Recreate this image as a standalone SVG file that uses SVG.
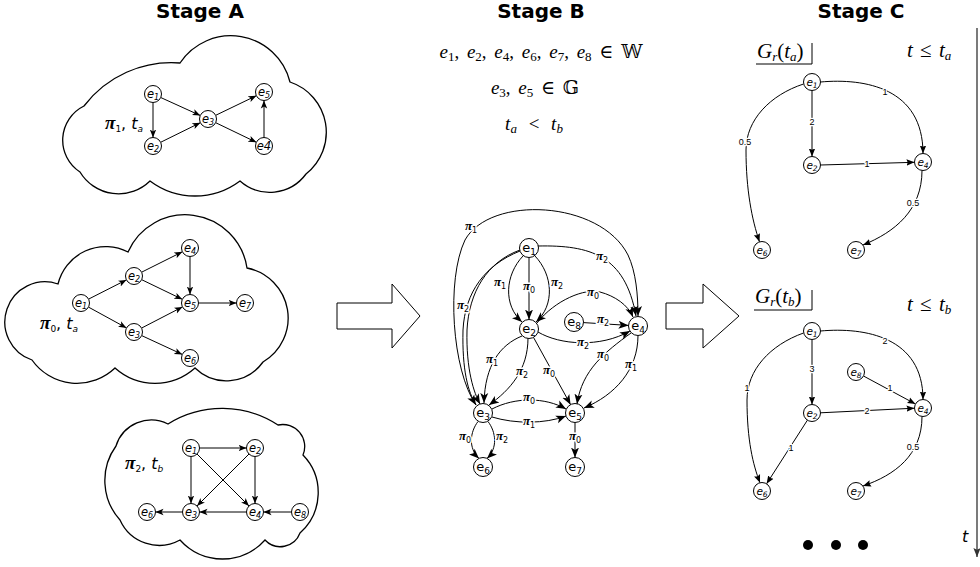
<svg xmlns="http://www.w3.org/2000/svg" width="980" height="567" viewBox="0 0 980 567">
<defs>
<style>
text{font-family:"DejaVu Sans",sans-serif;fill:#000}
.hd{font-weight:bold;font-size:20px;text-anchor:middle}
.cloud{fill:#fff;stroke:#000;stroke-width:1.3}
.bigarrow{fill:#fff;stroke:#000;stroke-width:1}
.nd circle{fill:#fff;stroke:#000;stroke-width:1}
.nd text{text-anchor:middle}
.na text{font-size:11.5px;font-style:italic}
.nb text{font-size:13px}
.nc text{font-size:10.5px;font-style:italic}
.s8{font-size:8px}
.s9{font-size:9px}
.s7{font-size:7.5px}
.ed path,.ed line{fill:none;stroke:#000;stroke-width:1}
.ea{marker-end:url(#ma)}
.eb{marker-end:url(#mb)}
.ec{marker-end:url(#mc)}
.pl{font-size:16px}
.pi{font-family:"Liberation Serif","DejaVu Serif",serif;font-weight:bold;font-style:italic}
.pl .pi{font-size:19px}
.lp{font-size:11px;text-anchor:middle;paint-order:stroke;stroke:#fff;stroke-width:3px;stroke-linejoin:round}
.lp .pi{font-size:13px}
.lw{font-family:"Liberation Sans",sans-serif;font-size:9px;text-anchor:middle;paint-order:stroke;stroke:#fff;stroke-width:2.5px;stroke-linejoin:round}
.m{font-family:"Liberation Serif","DejaVu Serif",serif;font-size:19px;text-anchor:middle;word-spacing:3px}
.mt{font-family:"Liberation Serif","DejaVu Serif",serif;font-size:21px}
.it{font-style:italic}
.ms{font-size:13px}
</style>
<marker id="ma" viewBox="0 0 10 10" refX="10" refY="5" markerWidth="8" markerHeight="8" markerUnits="userSpaceOnUse" orient="auto"><path d="M0,1 L10,5 L0,9 L2.5,5 Z"/></marker>
<marker id="mb" viewBox="0 0 10 10" refX="10" refY="5" markerWidth="10" markerHeight="10" markerUnits="userSpaceOnUse" orient="auto"><path d="M0,1 L10,5 L0,9 L2.5,5 Z"/></marker>
<marker id="mc" viewBox="0 0 10 10" refX="10" refY="5" markerWidth="8" markerHeight="8" markerUnits="userSpaceOnUse" orient="auto"><path d="M0,1 L10,5 L0,9 L1.5,5 Z"/></marker>
<marker id="mt" viewBox="0 0 10 10" refX="10" refY="5" markerWidth="9" markerHeight="9" markerUnits="userSpaceOnUse" orient="auto"><path d="M0,1 L10,5 L0,9 L2,5 Z" fill="#333"/></marker>
</defs>
<rect width="980" height="567" fill="#fff"/>

<!-- column headings -->
<text class="hd" x="200" y="18">Stage A</text>
<text class="hd" x="541" y="18">Stage B</text>
<text class="hd" x="861" y="18">Stage C</text>

<!-- clouds (one per path) -->
<g id="cloud-pi1">
<path class="cloud" d="M80 172 A38 38 0 0 1 84 106 A110 110 0 0 1 180 63 A61 61 0 0 1 290 82 A53 53 0 0 1 306 174 A45 45 0 0 1 240 181 A75 75 0 0 1 150 181 A45 45 0 0 1 80 172 Z"/>
<text class="pl" x="105" y="129"><tspan class="pi">π</tspan><tspan class="s9" dy="3">1</tspan><tspan dy="-3">, </tspan><tspan class="it">t</tspan><tspan class="s9 it" dy="3">a</tspan></text>
</g>
<g id="cloud-pi0">
<path class="cloud" d="M32 360 A40 40 0 0 1 58 284 A49 49 0 0 1 128 252 A62.5 62.5 0 0 1 247 268 A51 51 0 0 1 263 362 A45 45 0 0 1 195 368 A60 60 0 0 1 115 368 A55 55 0 0 1 32 360 Z"/>
<text class="pl" x="40" y="329"><tspan class="pi">π</tspan><tspan class="s9" dy="3">0</tspan><tspan dy="-3">, </tspan><tspan class="it">t</tspan><tspan class="s9 it" dy="3">a</tspan></text>
</g>
<g id="cloud-pi2">
<path class="cloud" d="M120 520 A59 59 0 0 1 116 446 A37 37 0 0 1 168 424 A102 102 0 0 1 278 425 A22 22 0 0 1 303 455 A54 54 0 0 1 300 533 A21 21 0 0 1 265 540 A57 57 0 0 1 180 540 A43 43 0 0 1 120 520 Z"/>
<text class="pl" x="125" y="469"><tspan class="pi">π</tspan><tspan class="s9" dy="3">2</tspan><tspan dy="-3">, </tspan><tspan class="it">t</tspan><tspan class="s9 it" dy="3">b</tspan></text>
</g>

<!-- transition arrows -->
<polygon id="arrow-ab" class="bigarrow" points="337,303 392,303 392,284 420,316 392,348 392,329 337,329"/>
<polygon id="arrow-bc" class="bigarrow" points="666,303 703,303 703,284 739,316 703,348 703,329 666,329"/>

<!-- Stage B statements -->
<text class="m" x="541" y="58"><tspan class="it">e</tspan><tspan class="ms" dy="3">1</tspan><tspan dy="-3">, </tspan><tspan class="it">e</tspan><tspan class="ms" dy="3">2</tspan><tspan dy="-3">, </tspan><tspan class="it">e</tspan><tspan class="ms" dy="3">4</tspan><tspan dy="-3">, </tspan><tspan class="it">e</tspan><tspan class="ms" dy="3">6</tspan><tspan dy="-3">, </tspan><tspan class="it">e</tspan><tspan class="ms" dy="3">7</tspan><tspan dy="-3">, </tspan><tspan class="it">e</tspan><tspan class="ms" dy="3">8</tspan><tspan dy="-3"> ∈ 𝕎</tspan></text>
<text class="m" x="535" y="94"><tspan class="it">e</tspan><tspan class="ms" dy="3">3</tspan><tspan dy="-3">, </tspan><tspan class="it">e</tspan><tspan class="ms" dy="3">5</tspan><tspan dy="-3"> ∈ 𝔾</tspan></text>
<text class="m" x="534" y="130" style="word-spacing:7px"><tspan class="it">t</tspan><tspan class="ms it" dy="3">a</tspan><tspan dy="-3"> &lt; </tspan><tspan class="it">t</tspan><tspan class="ms it" dy="3">b</tspan></text>

<!-- Stage C titles -->
<g id="title-ta">
<text class="mt" x="757" y="58"><tspan class="it">G</tspan><tspan class="ms it" dy="3">r</tspan><tspan dy="-3">(</tspan><tspan class="it">t</tspan><tspan class="ms it" dy="3">a</tspan><tspan dy="-3">)</tspan></text>
<path d="M756 64 H812 V43" fill="none" stroke="#000" stroke-width="1"/>
<text class="mt" x="907" y="57" style="word-spacing:2px"><tspan class="it">t</tspan> ≤ <tspan class="it">t</tspan><tspan class="ms it" dy="3">a</tspan></text>
</g>
<g id="title-tb">
<text class="mt" x="755" y="303"><tspan class="it">G</tspan><tspan class="ms it" dy="3">r</tspan><tspan dy="-3">(</tspan><tspan class="it">t</tspan><tspan class="ms it" dy="3">b</tspan><tspan dy="-3">)</tspan></text>
<path d="M754 310 H812 V290" fill="none" stroke="#000" stroke-width="1"/>
<text class="mt" x="907" y="311" style="word-spacing:2px"><tspan class="it">t</tspan> ≤ <tspan class="it">t</tspan><tspan class="ms it" dy="3">b</tspan></text>
</g>

<!-- time axis -->
<g id="time-axis">
<line x1="977" y1="28" x2="977" y2="557" stroke="#333" stroke-width="1.3" marker-end="url(#mt)"/>
<text class="it" x="962" y="542" font-family="Liberation Serif, serif" font-size="16">t</text>
<circle cx="808" cy="545" r="5"/>
<circle cx="836" cy="545" r="5"/>
<circle cx="863" cy="545" r="5"/>
</g>

<!-- connectors -->
<g id="connectors" class="ed">
<!-- path pi1 -->
<line class="ea" x1="153" y1="102.5" x2="153" y2="137.5"/>
<line class="ea" x1="160.7" y1="97.5" x2="200.3" y2="115.5"/>
<line class="ea" x1="160.6" y1="142.3" x2="200.4" y2="122.7"/>
<line class="ea" x1="215.7" y1="115.3" x2="256.4" y2="95.7"/>
<line class="ea" x1="215.7" y1="122.7" x2="256.4" y2="142.3"/>
<line class="ea" x1="264" y1="137.5" x2="264" y2="100.5"/>
<!-- path pi0 -->
<line class="ea" x1="88.6" y1="299.1" x2="126.4" y2="279.9"/>
<line class="ea" x1="88.5" y1="307.1" x2="126.5" y2="327.9"/>
<line class="ea" x1="141.6" y1="272.2" x2="182.4" y2="251.8"/>
<line class="ea" x1="141.7" y1="279.7" x2="182.3" y2="299.3"/>
<line class="ea" x1="190" y1="256.5" x2="190" y2="294.5"/>
<line class="ea" x1="141.5" y1="328.1" x2="182.5" y2="306.9"/>
<line class="ea" x1="198.5" y1="303" x2="236.5" y2="303"/>
<line class="ea" x1="141.7" y1="335.6" x2="182.3" y2="354.4"/>
<!-- path pi2 -->
<line class="ea" x1="199.5" y1="448" x2="246.5" y2="448"/>
<line class="ea" x1="191" y1="456.5" x2="191" y2="503.5"/>
<line class="ea" x1="197" y1="454" x2="249" y2="506"/>
<line class="ea" x1="249" y1="454" x2="197" y2="506"/>
<line class="ea" x1="255" y1="456.5" x2="255" y2="503.5"/>
<line class="ea" x1="246.5" y1="512" x2="199.5" y2="512"/>
<line class="ea" x1="291.5" y1="512" x2="263.5" y2="512"/>
<line class="ea" x1="182.5" y1="512" x2="155.5" y2="512"/>

<!-- merged graph -->
<path class="eb" d="M476 405 C452 370 446 280 465 240 C490 195 600 200 628 255 C636 272 638 295 638 316"/>
<path class="eb" d="M520 251 C485 265 465 292 463 330 C462 370 468 392 476 405"/>
<path class="eb" d="M520 250 C487 262 469 292 467 330 C466 370 474 393 480 404"/>
<path class="eb" d="M523 256 C505 275 503 305 522 322"/>
<line class="eb" x1="529" y1="257.5" x2="529" y2="319.5"/>
<path class="eb" d="M535 256 C553 275 555 305 536 322"/>
<path class="eb" d="M538 246 C590 245 625 255 636 316"/>
<path class="eb" d="M537 323 C555 300 585 288 600 292 C615 296 628 305 633 317"/>
<line class="eb" x1="583.5" y1="322.6" x2="628.5" y2="325.4"/>
<path class="eb" d="M538 332 C560 345 600 348 630 331"/>
<path class="eb" d="M631 333 C605 352 582 370 577 404"/>
<path class="eb" d="M638 335.5 C638 370 615 395 584 408"/>
<path class="eb" d="M522 336 C500 345 485 365 484 403"/>
<path class="eb" d="M528 338 C528 370 510 390 489 405"/>
<line class="eb" x1="533.5" y1="337.4" x2="570.6" y2="404.7"/>
<path class="eb" d="M492 409 C515 397 545 397 566 409"/>
<path class="eb" d="M492 417 C515 424 545 424 566 416"/>
<path class="eb" d="M478 421.5 C470 432 468 448 479 458.5"/>
<path class="eb" d="M488 421.5 C496 432 498 448 487 458.5"/>
<line class="eb" x1="575" y1="422.5" x2="575" y2="457.5"/>

<!-- reachability graph at t_a -->
<line class="ec" x1="812" y1="90.5" x2="812" y2="156.5"/>
<path class="ec" d="M820.5 82 C865 78 923 88 923 153.5"/>
<path class="ec" d="M803.5 84 C770 95 746 120 746 150 C746 190 752 220 759.5 241.8"/>
<line class="ec" x1="820.5" y1="165" x2="914.5" y2="162.3"/>
<path class="ec" d="M922 170.5 C922 210 895 232 863 245"/>
<!-- reachability graph at t_b -->
<line class="ec" x1="812" y1="339.5" x2="812" y2="404.5"/>
<path class="ec" d="M820.5 331 C865 327 923 337 923 399.5"/>
<path class="ec" d="M803.5 333 C770 345 747 370 747 400 C747 440 753 465 760 482.7"/>
<line class="ec" x1="863.5" y1="376" x2="915.5" y2="404"/>
<line class="ec" x1="820.5" y1="412.8" x2="914.5" y2="408.2"/>
<line class="ec" x1="807.4" y1="420.2" x2="766.6" y2="483.8"/>
<path class="ec" d="M922 416.5 C922 455 895 475 863 486"/>
</g>

<!-- connector labels -->
<g id="connector-labels">
<text class="lp" x="471" y="230"><tspan class="pi">π</tspan><tspan class="s8" dy="2.5">1</tspan></text>
<text class="lp" x="602" y="260"><tspan class="pi">π</tspan><tspan class="s8" dy="2.5">2</tspan></text>
<text class="lp" x="500" y="286"><tspan class="pi">π</tspan><tspan class="s8" dy="2.5">1</tspan></text>
<text class="lp" x="529" y="290"><tspan class="pi">π</tspan><tspan class="s8" dy="2.5">0</tspan></text>
<text class="lp" x="557" y="286"><tspan class="pi">π</tspan><tspan class="s8" dy="2.5">2</tspan></text>
<text class="lp" x="463" y="309"><tspan class="pi">π</tspan><tspan class="s8" dy="2.5">2</tspan></text>
<text class="lp" x="593" y="296"><tspan class="pi">π</tspan><tspan class="s8" dy="2.5">0</tspan></text>
<text class="lp" x="603" y="323"><tspan class="pi">π</tspan><tspan class="s8" dy="2.5">2</tspan></text>
<text class="lp" x="583" y="346"><tspan class="pi">π</tspan><tspan class="s8" dy="2.5">2</tspan></text>
<text class="lp" x="603" y="358"><tspan class="pi">π</tspan><tspan class="s8" dy="2.5">0</tspan></text>
<text class="lp" x="631" y="368"><tspan class="pi">π</tspan><tspan class="s8" dy="2.5">1</tspan></text>
<text class="lp" x="492" y="363"><tspan class="pi">π</tspan><tspan class="s8" dy="2.5">1</tspan></text>
<text class="lp" x="522" y="375"><tspan class="pi">π</tspan><tspan class="s8" dy="2.5">2</tspan></text>
<text class="lp" x="549" y="374"><tspan class="pi">π</tspan><tspan class="s8" dy="2.5">0</tspan></text>
<text class="lp" x="529" y="401"><tspan class="pi">π</tspan><tspan class="s8" dy="2.5">0</tspan></text>
<text class="lp" x="529" y="425"><tspan class="pi">π</tspan><tspan class="s8" dy="2.5">1</tspan></text>
<text class="lp" x="465" y="440"><tspan class="pi">π</tspan><tspan class="s8" dy="2.5">0</tspan></text>
<text class="lp" x="502" y="440"><tspan class="pi">π</tspan><tspan class="s8" dy="2.5">2</tspan></text>
<text class="lp" x="575" y="440"><tspan class="pi">π</tspan><tspan class="s8" dy="2.5">0</tspan></text>

<text class="lw" x="812" y="125">2</text>
<text class="lw" x="885" y="95">1</text>
<text class="lw" x="745" y="145">0.5</text>
<text class="lw" x="867" y="167">1</text>
<text class="lw" x="913" y="206">0.5</text>
<text class="lw" x="812" y="372">3</text>
<text class="lw" x="885" y="344">2</text>
<text class="lw" x="747" y="391">1</text>
<text class="lw" x="890" y="391">1</text>
<text class="lw" x="867" y="414">2</text>
<text class="lw" x="791" y="451">1</text>
<text class="lw" x="913" y="450">0.5</text>
</g>

<!-- nodes: path pi1 -->
<g id="a1-e1" class="nd na"><circle cx="153" cy="94" r="8.5"/><text x="153" y="97.5">e<tspan class="s8" dy="2.5">1</tspan></text></g>
<g id="a1-e2" class="nd na"><circle cx="153" cy="146" r="8.5"/><text x="153" y="149.5">e<tspan class="s8" dy="2.5">2</tspan></text></g>
<g id="a1-e3" class="nd na"><circle cx="208" cy="119" r="8.5"/><text x="208" y="122.5">e<tspan class="s8" dy="2.5">3</tspan></text></g>
<g id="a1-e5" class="nd na"><circle cx="264" cy="92" r="8.5"/><text x="264" y="95.5">e<tspan class="s8" dy="2.5">5</tspan></text></g>
<g id="a1-e4" class="nd na"><circle cx="264" cy="146" r="8.5"/><text x="264" y="150">e4</text></g>
<!-- nodes: path pi0 -->
<g id="a0-e1" class="nd na"><circle cx="81" cy="303" r="8.5"/><text x="81" y="306.5">e<tspan class="s8" dy="2.5">1</tspan></text></g>
<g id="a0-e2" class="nd na"><circle cx="134" cy="276" r="8.5"/><text x="134" y="279.5">e<tspan class="s8" dy="2.5">2</tspan></text></g>
<g id="a0-e4" class="nd na"><circle cx="190" cy="248" r="8.5"/><text x="190" y="251.5">e<tspan class="s8" dy="2.5">4</tspan></text></g>
<g id="a0-e5" class="nd na"><circle cx="190" cy="303" r="8.5"/><text x="190" y="306.5">e<tspan class="s8" dy="2.5">5</tspan></text></g>
<g id="a0-e7" class="nd na"><circle cx="245" cy="303" r="8.5"/><text x="245" y="306.5">e<tspan class="s8" dy="2.5">7</tspan></text></g>
<g id="a0-e3" class="nd na"><circle cx="134" cy="332" r="8.5"/><text x="134" y="335.5">e<tspan class="s8" dy="2.5">3</tspan></text></g>
<g id="a0-e6" class="nd na"><circle cx="190" cy="358" r="8.5"/><text x="190" y="361.5">e<tspan class="s8" dy="2.5">6</tspan></text></g>
<!-- nodes: path pi2 -->
<g id="a2-e1" class="nd na"><circle cx="191" cy="448" r="8.5"/><text x="191" y="451.5">e<tspan class="s8" dy="2.5">1</tspan></text></g>
<g id="a2-e2" class="nd na"><circle cx="255" cy="448" r="8.5"/><text x="255" y="451.5">e<tspan class="s8" dy="2.5">2</tspan></text></g>
<g id="a2-e3" class="nd na"><circle cx="191" cy="512" r="8.5"/><text x="191" y="515.5">e<tspan class="s8" dy="2.5">3</tspan></text></g>
<g id="a2-e4" class="nd na"><circle cx="255" cy="512" r="8.5"/><text x="255" y="515.5">e<tspan class="s8" dy="2.5">4</tspan></text></g>
<g id="a2-e6" class="nd na"><circle cx="147" cy="512" r="8.5"/><text x="147" y="515.5">e<tspan class="s8" dy="2.5">6</tspan></text></g>
<g id="a2-e8" class="nd na"><circle cx="300" cy="512" r="8.5"/><text x="300" y="515.5">e<tspan class="s8" dy="2.5">8</tspan></text></g>
<!-- nodes: merged graph -->
<g id="b-e1" class="nd nb"><circle cx="529" cy="248" r="9.5"/><text x="529" y="252">e<tspan class="s9" dy="3">1</tspan></text></g>
<g id="b-e2" class="nd nb"><circle cx="529" cy="329" r="9.5"/><text x="529" y="333">e<tspan class="s9" dy="3">2</tspan></text></g>
<g id="b-e8" class="nd nb"><circle cx="574" cy="322" r="9.5"/><text x="574" y="326">e<tspan class="s9" dy="3">8</tspan></text></g>
<g id="b-e4" class="nd nb"><circle cx="638" cy="326" r="9.5"/><text x="638" y="330">e<tspan class="s9" dy="3">4</tspan></text></g>
<g id="b-e3" class="nd nb"><circle cx="483" cy="413" r="9.5"/><text x="483" y="417">e<tspan class="s9" dy="3">3</tspan></text></g>
<g id="b-e5" class="nd nb"><circle cx="575" cy="413" r="9.5"/><text x="575" y="417">e<tspan class="s9" dy="3">5</tspan></text></g>
<g id="b-e6" class="nd nb"><circle cx="483" cy="467" r="9.5"/><text x="483" y="471">e<tspan class="s9" dy="3">6</tspan></text></g>
<g id="b-e7" class="nd nb"><circle cx="575" cy="467" r="9.5"/><text x="575" y="471">e<tspan class="s9" dy="3">7</tspan></text></g>
<!-- nodes: reachability graph t_a -->
<g id="ca-e1" class="nd nc"><circle cx="812" cy="82" r="8.5"/><text x="812" y="85.5">e<tspan class="s7" dy="2.5">1</tspan></text></g>
<g id="ca-e2" class="nd nc"><circle cx="812" cy="165" r="8.5"/><text x="812" y="168.5">e<tspan class="s7" dy="2.5">2</tspan></text></g>
<g id="ca-e4" class="nd nc"><circle cx="923" cy="162" r="8.5"/><text x="923" y="165.5">e<tspan class="s7" dy="2.5">4</tspan></text></g>
<g id="ca-e6" class="nd nc"><circle cx="762" cy="250" r="8.5"/><text x="762" y="253.5">e<tspan class="s7" dy="2.5">6</tspan></text></g>
<g id="ca-e7" class="nd nc"><circle cx="856" cy="250" r="8.5"/><text x="856" y="253.5">e<tspan class="s7" dy="2.5">7</tspan></text></g>
<!-- nodes: reachability graph t_b -->
<g id="cb-e1" class="nd nc"><circle cx="812" cy="331" r="8.5"/><text x="812" y="334.5">e<tspan class="s7" dy="2.5">1</tspan></text></g>
<g id="cb-e8" class="nd nc"><circle cx="856" cy="372" r="8.5"/><text x="856" y="375.5">e<tspan class="s7" dy="2.5">8</tspan></text></g>
<g id="cb-e2" class="nd nc"><circle cx="812" cy="413" r="8.5"/><text x="812" y="416.5">e<tspan class="s7" dy="2.5">2</tspan></text></g>
<g id="cb-e4" class="nd nc"><circle cx="923" cy="408" r="8.5"/><text x="923" y="411.5">e<tspan class="s7" dy="2.5">4</tspan></text></g>
<g id="cb-e6" class="nd nc"><circle cx="762" cy="491" r="8.5"/><text x="762" y="494.5">e<tspan class="s7" dy="2.5">6</tspan></text></g>
<g id="cb-e7" class="nd nc"><circle cx="856" cy="491" r="8.5"/><text x="856" y="494.5">e<tspan class="s7" dy="2.5">7</tspan></text></g>
</svg>
